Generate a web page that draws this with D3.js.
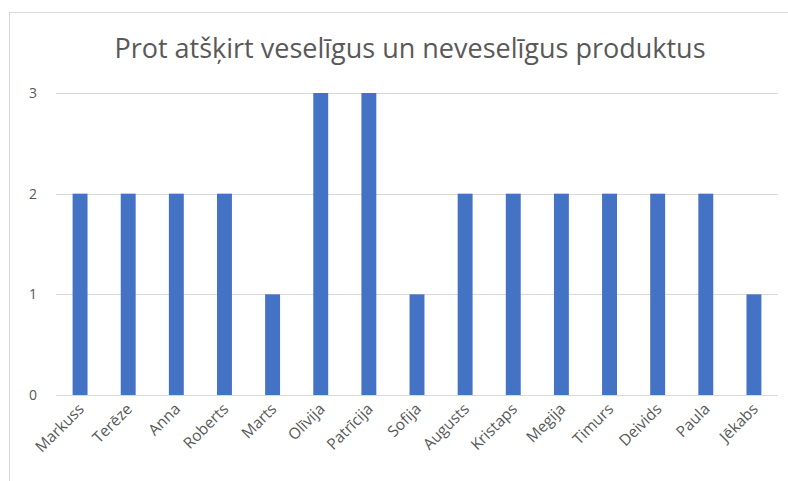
<!DOCTYPE html>
<html>
<head>
<meta charset="utf-8">
<script src="https://cdn.jsdelivr.net/npm/d3@7"></script>
<style>
  body { margin: 0; background: #fff; }
  svg { display: block; }
</style>
</head>
<body>
<div id="chart"></div>
<script>
// data
const names = ["Markuss", "Terēze", "Anna", "Roberts", "Marts", "Olīvija", "Patrīcija", "Sofija",
               "Augusts", "Kristaps", "Megija", "Timurs", "Deivids", "Paula", "Jēkabs"];
const scores = [2, 2, 2, 2, 1, 3, 3, 1, 2, 2, 2, 2, 2, 2, 1];
const yTicks = [0, 1, 2, 3];
const title = "Prot atšķirt veselīgus un neveselīgus produktus";

const width = 788, height = 481;
const margin = { top: 93, right: 10, bottom: 86, left: 56 };

const svg = d3.select("#chart")
    .append("svg")
    .attr("width", width)
    .attr("height", height);

// chart frame (cropped at right/bottom like the screenshot)
svg.append("rect")
    .attr("x", 9.5).attr("y", 12.5)
    .attr("width", 800).attr("height", 500)
    .attr("fill", "#fff")
    .attr("stroke", "#d9d9d9");

const x = d3.scaleBand()
    .domain(names)
    .range([margin.left, width - margin.right])
    .paddingInner(0.69)
    .paddingOuter(0.345);

const y = d3.scaleLinear()
    .domain([0, 3])
    .range([height - margin.bottom, margin.top]);

// gridlines
svg.append("g")
    .selectAll("line")
    .data(yTicks)
    .join("line")
    .attr("x1", margin.left)
    .attr("x2", width - margin.right)
    .attr("y1", d => Math.round(y(d)) + 0.5)
    .attr("y2", d => Math.round(y(d)) + 0.5)
    .attr("stroke", "#d9d9d9");

// y labels
svg.append("g")
    .selectAll("text")
    .data(yTicks)
    .join("text")
    .attr("x", 37)
    .attr("y", d => y(d))
    .attr("dy", "0.35em")
    .attr("text-anchor", "end")
    .attr("font-family", "Open Sans, sans-serif")
    .attr("font-size", 14)
    .attr("fill", "#595959")
    .text(d => d);

// bars
svg.append("g")
    .selectAll("rect")
    .data(names)
    .join("rect")
    .attr("x", d => x(d))
    .attr("width", x.bandwidth())
    .attr("y", (d, i) => y(scores[i]))
    .attr("height", (d, i) => y(0) - y(scores[i]))
    .attr("fill", "#4472c4");

// x labels, rotated
svg.append("g")
    .selectAll("text")
    .data(names)
    .join("text")
    .attr("transform", d => `translate(${x(d) + x.bandwidth() / 2 + 5},${y(0) + 15}) rotate(-45)`)
    .attr("text-anchor", "end")
    .attr("font-family", "Open Sans, sans-serif")
    .attr("font-size", 15.5)
    .attr("fill", "#595959")
    .text(d => d);

// title
svg.append("text")
    .attr("x", 410)
    .attr("y", 58)
    .attr("text-anchor", "middle")
    .attr("font-family", "Open Sans, sans-serif")
    .attr("font-size", 27)
    .attr("fill", "#595959")
    .text(title);
</script>
</body>
</html>
